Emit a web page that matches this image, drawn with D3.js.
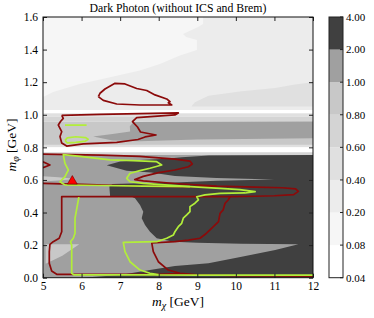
<!DOCTYPE html>
<html>
<head>
<meta charset="utf-8">
<script src="https://cdn.jsdelivr.net/npm/d3@7"></script>
<style>
  body { margin: 0; background: #fff; }
  svg { display: block; }
  text { font-family: "Liberation Serif", "DejaVu Serif", serif; fill: #000; }
</style>
</head>
<body>
<svg id="chart" width="374" height="318"></svg>
<script>
// ---------- data ----------
const levels = [0.04, 0.08, 0.20, 0.40, 0.60, 0.80, 1.00, 2.00, 4.00];
const levelColors = ['#ffffff', '#f6f6f6', '#ececec', '#e0e0e0', '#d4d4d4', '#c8c8c8', '#a0a0a0', '#404040'];
const xTicks = [5, 6, 7, 8, 9, 10, 11, 12];
const yTicks = [0, 0.2, 0.4, 0.6, 0.8, 1.0, 1.2, 1.4, 1.6];

// horizontal bands of the filled field: [yLow, yHigh, level index]
const bandsUpper = [[1.029, 1.6, 2]];
const bandsResonance = [
  [1.009, 1.029, 0], [0.988, 1.009, 3], [0.958, 0.988, 4], [0.815, 0.958, 5]
];
const bandsLower = [
  [0.800, 0.815, 3], [0.770, 0.800, 0], [0.753, 0.770, 4], [0, 0.753, 6]
];

// filled areas [m_chi, m_phi]
const topLightArea = [[5,1.6],[9.15,1.6],[9.15,1.557],[9.02,1.539],[8.63,1.496],[8.71,1.477],[8.99,1.459],
  [8.99,1.398],[8.55,1.363],[8.03,1.311],[7.51,1.271],[6.91,1.24],[5.96,1.189],[5.26,1.14],[5,1.109]];
const upperBandArea = [[8.85,1.051],[8.88,1.062],[8.94,1.077],[9.29,1.117],[10.15,1.144],[11.02,1.165],
  [11.53,1.185],[12,1.2],[12,1.051]];
const midWedgeArea = [[12,0.958],[7.35,0.956],[7.25,0.93],[7.26,0.897],[6.8,0.882],[6.3,0.866],[6.8,0.842],
  [7.5,0.838],[9,0.848],[12,0.856]];
const darkArea = [[6.65,0.69],[7.0,0.713],[7.5,0.722],[8.2,0.73],[8.6,0.74],[9.3,0.75],[12,0.753],[12,0],
  [6.0,0],[7.0,0.017],[7.77,0.047],[8.42,0.072],[9.29,0.088],[10.15,0.129],[11.02,0.17],[11.62,0.205],
  [10.15,0.209],[9.0,0.215],[8.378,0.221],[7.948,0.242],[7.774,0.282],[7.645,0.323],[7.559,0.365],
  [7.6,0.405],[7.515,0.446],[7.385,0.487],[7.3,0.497],[6.74,0.5],[6.72,0.56],[6.8,0.575],[7.5,0.58],
  [8.42,0.585],[9.5,0.595],[11.0,0.603],[9.5,0.612],[8.42,0.624],[7.8,0.645],[7.17,0.657]];
const leftLensArea = [[5,0.622],[5.4,0.616],[5.87,0.606],[5.4,0.596],[5,0.59]];
const leftTriangleArea = [[5.07,0.205],[5.94,0.205],[5.5,0.135],[5.07,0.085]];

// dark red contours
const redUpperLoop = [[6.434,1.111],[6.478,1.132],[6.607,1.158],[6.867,1.193],[7.126,1.189],[7.429,1.161],
  [7.689,1.149],[7.904,1.122],[8.207,1.097],[8.293,1.08],[8.249,1.074],[8.337,1.06],[8.033,1.06],
  [7.515,1.06],[6.911,1.066],[6.563,1.088],[6.434,1.111]];
const redMidLoop = [[5.485,0.996],[6.478,1.002],[7.515,1.007],[8.508,1.011],[8.42,0.999],[7.429,0.983],
  [7.32,0.958],[7.45,0.925],[7.528,0.894],[7.93,0.876],[7.645,0.864],[7.463,0.848],[6.911,0.83],
  [6.045,0.821],[5.614,0.808],[5.485,0.827],[5.441,0.866],[5.485,0.896],[5.397,0.937],[5.454,0.959],
  [5.526,0.978],[5.485,0.996]];
const redTongue = [[5,0.759],[6.5,0.752],[7.5,0.745],[8.42,0.728],[8.81,0.716],[8.87,0.698],[8.77,0.681],
  [8.42,0.661],[8.0,0.645],[7.6,0.622],[7.38,0.602],[7.6,0.594],[8.42,0.578],[9.5,0.562],[10.5,0.556],
  [11.2,0.552],[11.55,0.545],[11.62,0.53],[11.5,0.51],[11.0,0.503],[10.5,0.5],[9.85,0.497],[9.8,0.477],
  [9.72,0.457],[9.67,0.416],[9.59,0.395],[9.55,0.344],[9.37,0.303],[9.24,0.273],[9.07,0.242],[8.77,0.231],
  [8.42,0.221],[7.82,0.213],[7.86,0.16],[7.99,0.098],[8.25,0.047],[8.55,0.027],[9,0.018],[10,0.012],[12,0.01]];
const redLeftLine = [[5,0.579],[6,0.573],[7,0.566],[8,0.56],[8.8,0.558],[9.5,0.559]];
const redBox = [[9.85,0.497],[8,0.497],[6.5,0.497],[5.485,0.497],[5.485,0.282],[5.42,0.242],[5.265,0.221],
  [5.18,0.205],[5.163,0.16],[5.163,0.088],[5.225,0.041],[5.355,0.021],[6,0.02],[7,0.02],[8,0.021],[8.55,0.025]];
const redEdge = [[5,0.712],[5.18,0.692],[5,0.675]];

// yellow-green contours
const greenTongue = [[5.57,0.569],[5.44,0.589],[5.57,0.62],[5.656,0.661],[5.57,0.702],[5.526,0.755],
  [5.96,0.745],[6.737,0.723],[7.341,0.718],[7.948,0.712],[8.077,0.692],[7.774,0.672],[7.515,0.657],
  [7.256,0.641],[7.17,0.61],[7.256,0.589],[7.6,0.579],[8.81,0.559],[9.59,0.548],[10.1,0.541],[10.5,0.528],
  [10.24,0.52],[9.59,0.518],[9.2,0.508],[8.985,0.497],[9.03,0.477],[8.94,0.457],[8.81,0.436],[8.81,0.405],
  [8.726,0.385],[8.637,0.365],[8.596,0.334],[8.508,0.313],[8.42,0.282],[8.378,0.262],[8.207,0.242],
  [7.948,0.221],[7.082,0.217],[7.126,0.16],[7.256,0.098],[7.515,0.047],[7.774,0.027],[8.03,0.017],
  [9,0.016],[12,0.016]];
const greenJoin = [[5.57,0.569],[6.5,0.566],[7.6,0.562],[8.81,0.559]];
const greenLeft = [[5.93,0.495],[5.83,0.365],[5.83,0.273],[5.786,0.242],[5.713,0.221],[5.744,0.2],
  [5.744,0.027],[5.8,0.017],[7,0.017],[8.03,0.017]];
const greenDash = [[5.57,0.937],[6.13,0.937]];
const greenLoop = [[5.57,0.843],[5.63,0.858],[5.85,0.865],[6.1,0.86],[6.17,0.85],[6.1,0.838],[5.85,0.83],
  [5.63,0.827],[5.57,0.843]];

const marker = [[5.76, 0.592]];

// ---------- layout ----------
const svg = d3.select('#chart');
const M = { left: 43, right: 313, top: 17, bottom: 277.7 };
const x = d3.scaleLinear().domain([5, 12]).range([M.left, M.right]);
const y = d3.scaleLinear().domain([0, 1.6]).range([M.bottom, M.top]);
const line = d3.line().x(d => x(d[0])).y(d => y(d[1]));

svg.append('clipPath').attr('id', 'clip')
  .append('rect').attr('x', M.left).attr('y', M.top)
  .attr('width', M.right - M.left).attr('height', M.bottom - M.top);

const field = svg.append('g').attr('clip-path', 'url(#clip)');

function bands(list) {
  list.forEach(([y0, y1, lvl]) => {
    field.append('rect')
      .attr('x', M.left).attr('width', M.right - M.left)
      .attr('y', y(y1)).attr('height', y(y0) - y(y1))
      .attr('fill', levelColors[lvl]);
  });
}
function area(pts, lvl) {
  field.append('path').attr('d', line(pts) + 'Z').attr('fill', levelColors[lvl]);
}

bands(bandsUpper);
area(topLightArea, 1);
area(upperBandArea, 3);
bands(bandsResonance);
area(midWedgeArea, 6);
bands(bandsLower);
area(darkArea, 7);
area(leftLensArea, 5);
area(leftTriangleArea, 5);

// contour lines
const RED = '#8b0a0a', GREEN = '#b2ee3a';
[[redUpperLoop, RED], [redMidLoop, RED], [redTongue, RED], [redLeftLine, RED], [redBox, RED], [redEdge, RED],
 [greenTongue, GREEN], [greenJoin, GREEN], [greenLeft, GREEN], [greenDash, GREEN], [greenLoop, GREEN]]
  .forEach(([pts, c]) => {
    field.append('path').attr('d', line(pts))
      .attr('fill', 'none').attr('stroke', c).attr('stroke-width', 1.7)
      .attr('stroke-linejoin', 'round');
  });

field.selectAll('path.marker').data(marker).enter().append('path')
  .attr('class', 'marker')
  .attr('transform', d => `translate(${x(d[0])},${y(d[1])})`)
  .attr('d', d3.symbol(d3.symbolTriangle, 42))
  .attr('fill', '#ff0000').attr('stroke', '#600').attr('stroke-width', 0.6);

// ---------- axes (inward ticks on all sides) ----------
const fmtY = d3.format('.1f');
const axB = svg.append('g').attr('transform', `translate(0,${M.bottom})`)
  .call(d3.axisBottom(x).tickValues(xTicks).tickFormat(d3.format('d'))
    .tickSizeInner(-4).tickSizeOuter(0).tickPadding(4));
const axT = svg.append('g').attr('transform', `translate(0,${M.top})`)
  .call(d3.axisTop(x).tickValues(xTicks).tickSizeInner(-4).tickSizeOuter(0).tickFormat(''));
const axL = svg.append('g').attr('transform', `translate(${M.left},0)`)
  .call(d3.axisLeft(y).tickValues(yTicks).tickFormat(fmtY).tickSizeInner(-4).tickSizeOuter(0).tickPadding(5));
const axR = svg.append('g').attr('transform', `translate(${M.right},0)`)
  .call(d3.axisRight(y).tickValues(yTicks).tickSizeInner(-4).tickSizeOuter(0).tickFormat(''));
[axB, axT, axL, axR].forEach(a => {
  a.select('.domain').remove();
  a.selectAll('text').attr('font-family', null).attr('font-size', null).style('font-size', '11.5px');
  a.selectAll('line').attr('stroke', '#222');
});

svg.append('rect')
  .attr('x', M.left).attr('y', M.top)
  .attr('width', M.right - M.left).attr('height', M.bottom - M.top)
  .attr('fill', 'none').attr('stroke', '#111').attr('stroke-width', 1);

// ---------- titles ----------
const title = svg.append('text')
  .attr('x', (M.left + M.right) / 2).attr('y', 12)
  .attr('text-anchor', 'middle').style('font-size', '11px')
  .text('Dark Photon (without ICS and Brem)');
const tl = title.node().getComputedTextLength();
title.style('font-size', (11 * 177 / tl).toFixed(2) + 'px');

const xl = svg.append('text')
  .attr('x', 178).attr('y', 306).attr('text-anchor', 'middle').style('font-size', '13.5px');
xl.append('tspan').attr('font-style', 'italic').text('m');
xl.append('tspan').attr('font-style', 'italic').attr('dy', 3).style('font-size', '10px').text('χ');
xl.append('tspan').attr('dy', -3).text(' [GeV]');

const yl = svg.append('text')
  .attr('transform', 'translate(16,145) rotate(-90)')
  .attr('text-anchor', 'middle').style('font-size', '13.5px');
yl.append('tspan').attr('font-style', 'italic').text('m');
yl.append('tspan').attr('font-style', 'italic').attr('dy', 3).style('font-size', '10px').text('φ');
yl.append('tspan').attr('dy', -3).text(' [GeV]');

// ---------- colorbar ----------
const CB = { x: 329, w: 14 };
const cy = d3.scaleLinear().domain([0, levels.length - 1]).range([M.bottom, M.top]);
const cb = svg.append('g');
cb.selectAll('rect.seg').data(levelColors).enter().append('rect')
  .attr('class', 'seg')
  .attr('x', CB.x).attr('width', CB.w)
  .attr('y', (d, i) => cy(i + 1)).attr('height', (d, i) => cy(i) - cy(i + 1))
  .attr('fill', d => d);
cb.append('rect')
  .attr('x', CB.x).attr('y', M.top).attr('width', CB.w).attr('height', M.bottom - M.top)
  .attr('fill', 'none').attr('stroke', '#222').attr('stroke-width', 1);
cb.selectAll('line.tk').data(levels).enter().append('line')
  .attr('class', 'tk')
  .attr('x1', CB.x + CB.w - 3).attr('x2', CB.x + CB.w)
  .attr('y1', (d, i) => cy(i)).attr('y2', (d, i) => cy(i))
  .attr('stroke', '#222');
cb.selectAll('text.lb').data(levels).enter().append('text')
  .attr('class', 'lb')
  .attr('x', CB.x + CB.w + 3).attr('y', (d, i) => cy(i)).attr('dy', '0.35em')
  .style('font-size', '11px')
  .text(d => d3.format('.2f')(d));
</script>
</body>
</html>
